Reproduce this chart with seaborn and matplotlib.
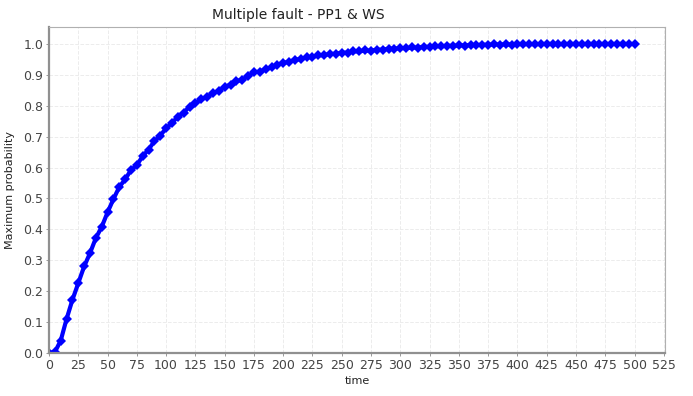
import matplotlib
matplotlib.use("Agg")
import matplotlib.pyplot as plt
import seaborn as sns
import pandas as pd

# values, one every 5 time units
time = list(range(0, 505, 5))
max_prob = [
    0.000, 0.003, 0.040, 0.110, 0.172, 0.226, 0.280, 0.323, 0.372, 0.408,
    0.455, 0.498, 0.537, 0.562, 0.592, 0.608, 0.637, 0.658, 0.686, 0.703,
    0.728, 0.744, 0.765, 0.778, 0.797, 0.808, 0.821, 0.829, 0.841, 0.848,
    0.862, 0.868, 0.879, 0.885, 0.896, 0.909, 0.910, 0.919, 0.924, 0.933,
    0.939, 0.942, 0.949, 0.951, 0.957, 0.958, 0.963, 0.964, 0.968, 0.968,
    0.972, 0.972, 0.976, 0.976, 0.979, 0.978, 0.982, 0.981, 0.985, 0.984,
    0.987, 0.986, 0.989, 0.988, 0.991, 0.990, 0.993, 0.992, 0.995, 0.993,
    0.996, 0.995, 0.997, 0.996, 0.998, 0.997, 0.999, 0.998, 0.999, 0.998,
    1.000, 0.999, 1.000, 0.999, 1.000, 1.000, 1.000, 0.999, 1.000, 1.000,
    1.000, 1.000, 1.000, 1.000, 1.000, 1.000, 1.000, 1.000, 1.000, 1.000,
    1.000,
]
x_ticks = list(range(0, 550, 25))
y_ticks = [i / 10 for i in range(11)]

df = pd.DataFrame({"time": time, "prob": max_prob})

sns.set_theme(style="whitegrid")
plt.rcParams["font.family"] = ["Liberation Sans Narrow", "DejaVu Sans"]

fig = plt.figure(figsize=(6.93, 3.96), dpi=100)
ax = fig.add_axes([0.0707, 0.1086, 0.8889, 0.8232])

sns.lineplot(data=df, x="time", y="prob", ax=ax, color="#0000ff",
             marker="D", markersize=5.5, markeredgewidth=0, linewidth=3)

ax.set_xlim(0, 526)
ax.set_ylim(0, 1.055)
ax.set_xticks(x_ticks)
ax.set_yticks(y_ticks)
ax.set_xticklabels([str(t) for t in x_ticks])
ax.set_yticklabels(["%.1f" % v for v in y_ticks])
ax.tick_params(axis="both", labelsize=9, colors="#444444", length=2,
               width=0.6, pad=2, direction="out", color="#888888")
ax.tick_params(bottom=True, left=True)

ax.set_facecolor("white")
ax.grid(True, color="#ececec", linewidth=0.7, linestyle="--")
for side in ["top", "right"]:
    ax.spines[side].set_color("#b0b0b0")
    ax.spines[side].set_linewidth(0.8)
for side in ["left", "bottom"]:
    ax.spines[side].set_color("#909090")
    ax.spines[side].set_linewidth(1.6)

ax.set_xlabel("time", fontsize=8, color="#222222", labelpad=3)
ax.set_ylabel("Maximum probability", fontsize=8, color="#222222",
              labelpad=6, family="DejaVu Sans")
fig.text(0.43, 0.962, "Multiple fault - PP1 & WS", ha="center", va="center",
         fontsize=10, color="#222222")

fig.savefig("out.png", dpi=100)
